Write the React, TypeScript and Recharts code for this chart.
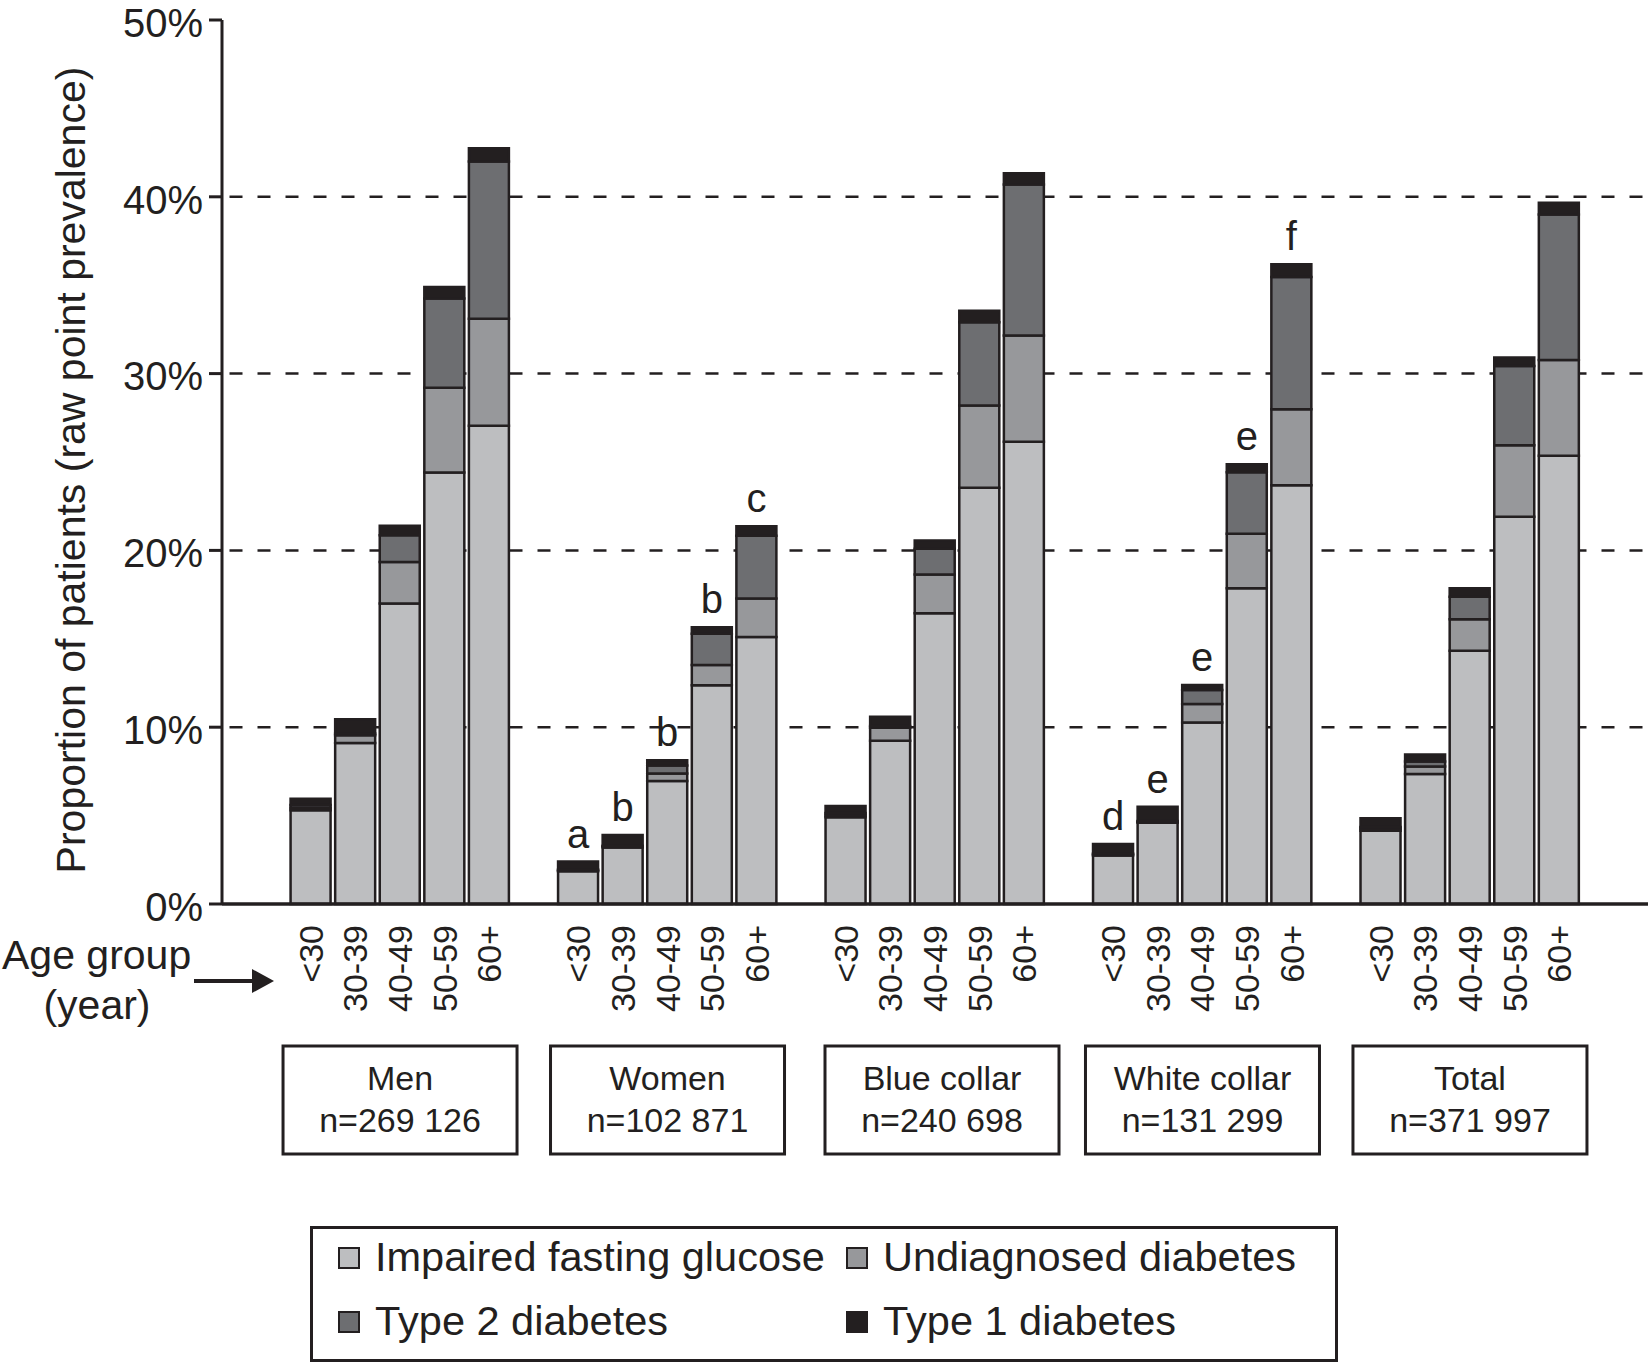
import React from 'react';
import { BarChart, Bar, XAxis, YAxis, CartesianGrid, Legend, LabelList } from 'recharts';

const INK = '#231f20';
const FONT = '"Liberation Sans", Arial, Helvetica, sans-serif';

const groups = ['Men', 'Women', 'Blue collar', 'White collar', 'Total'];
const groupSizes = ['n=269 126', 'n=102 871', 'n=240 698', 'n=131 299', 'n=371 997'];
const ageGroups = ['<30', '30-39', '40-49', '50-59', '60+'];
const yTicks = [0, 10, 20, 30, 40, 50];
const gridValues = [10, 20, 30, 40];

// % of patients, one row per group, one column per age group
const impairedFasting = [
  [5.3, 9.1, 17.0, 24.4, 27.05],
  [1.85, 3.2, 6.95, 12.37, 15.1],
  [4.9, 9.23, 16.44, 23.55, 26.15],
  [2.75, 4.6, 10.26, 17.86, 23.68],
  [4.15, 7.35, 14.33, 21.91, 25.36],
];
const undiagnosed = [
  [0.15, 0.45, 2.35, 4.8, 6.05],
  [0.05, 0.05, 0.43, 1.15, 2.18],
  [0.12, 0.74, 2.2, 4.65, 6.0],
  [0.05, 0.05, 1.05, 3.08, 4.3],
  [0.1, 0.43, 1.77, 4.04, 5.41],
];
const type2 = [
  [0.15, 0.1, 1.5, 5.05, 8.9],
  [0.05, 0.05, 0.45, 1.77, 3.55],
  [0.12, 0.1, 1.46, 4.7, 8.55],
  [0.05, 0.05, 0.8, 3.48, 7.49],
  [0.1, 0.28, 1.28, 4.48, 8.23],
];
const type1 = [
  [0.35, 0.8, 0.55, 0.65, 0.75],
  [0.45, 0.6, 0.3, 0.37, 0.54],
  [0.4, 0.52, 0.46, 0.65, 0.63],
  [0.55, 0.8, 0.28, 0.45, 0.71],
  [0.5, 0.4, 0.48, 0.48, 0.66],
];
const letters = [
  ['', '', '', '', ''],
  ['a', 'b', 'b', 'b', 'c'],
  ['', '', '', '', ''],
  ['d', 'e', 'e', 'e', 'f'],
  ['', '', '', '', ''],
];

const seriesNames = ['Impaired fasting glucose', 'Undiagnosed diabetes', 'Type 2 diabetes', 'Type 1 diabetes'];
const seriesKeys = ['ifg', 'ud', 't2', 't1'];
const seriesColors = ['#bdbec0', '#97989b', '#6d6e71', '#231f20'];

// the blue collar box sits a little right of its bars in the original
const boxShift = [0, 0, 7, 0, 0];

// one empty slot before, between and after the groups
const rows: any[] = [{ key: 'gap0' }];
groups.forEach((g, gi) => {
  ageGroups.forEach((a, ai) => {
    rows.push({
      key: `${gi}-${ai}`,
      group: gi,
      age: ai,
      ifg: impairedFasting[gi][ai],
      ud: undiagnosed[gi][ai],
      t2: type2[gi][ai],
      t1: type1[gi][ai],
      letter: letters[gi][ai],
    });
  });
  rows.push({ key: `gap${gi + 1}` });
});
const rowByKey: Record<string, any> = {};
rows.forEach((r) => (rowByKey[r.key] = r));

function AgeTick(props: any) {
  const { x, y, payload } = props;
  const row = rowByKey[payload.value];
  if (!row || row.group === undefined) return null;
  const ty = y + 21;
  const bx = x + boxShift[row.group];
  return (
    <g>
      <text
        x={x}
        y={ty}
        transform={`rotate(-90 ${x} ${ty})`}
        textAnchor="end"
        dominantBaseline="central"
        fontSize={34}
        fill={INK}
      >
        {ageGroups[row.age]}
      </text>
      {row.age === 2 && (
        <g>
          <rect x={bx - 117} y={y + 142} width={234} height={108} fill="#fff" stroke={INK} strokeWidth={3} />
          <text x={bx} y={y + 174} textAnchor="middle" dominantBaseline="central" fontSize={34} fill={INK}>
            {groups[row.group]}
          </text>
          <text x={bx} y={y + 216} textAnchor="middle" dominantBaseline="central" fontSize={34} fill={INK}>
            {groupSizes[row.group]}
          </text>
        </g>
      )}
    </g>
  );
}

function PercentTick(props: any) {
  const { x, y, payload } = props;
  return (
    <text x={x} y={y} dy="0.42em" textAnchor="end" fontSize={40} fill={INK}>
      {`${payload.value}%`}
    </text>
  );
}

function YTitle(props: any) {
  const vb = props.viewBox || { x: 0, y: 20, width: 222, height: 884 };
  const cx = vb.x + 71;
  const cy = vb.y + vb.height / 2 + 8;
  return (
    <text
      x={cx}
      y={cy}
      transform={`rotate(-90 ${cx} ${cy})`}
      textAnchor="middle"
      dominantBaseline="central"
      fontSize={41}
      fill={INK}
    >
      Proportion of patients (raw point prevalence)
    </text>
  );
}

function LetterLabel(props: any) {
  const { x, y, width, value } = props;
  if (!value) return null;
  return (
    <text x={x + width / 2} y={y - 14} textAnchor="middle" fontSize={40} fill={INK}>
      {value}
    </text>
  );
}

function LegendBox() {
  const cols = [29, 537];
  const rowsY = [22, 86];
  return (
    <svg width={1028} height={136} style={{ display: 'block' }}>
      <rect x={1.5} y={1.5} width={1025} height={133} fill="#fff" stroke={INK} strokeWidth={3} />
      {seriesNames.map((name, i) => {
        const cx = cols[i % 2];
        const cy = rowsY[Math.floor(i / 2)];
        return (
          <g key={name}>
            <rect x={cx} y={cy} width={20} height={20} fill={seriesColors[i]} stroke={INK} strokeWidth={2} />
            <text x={cx + 36} y={cy + 23} fontSize={41.5} fill={INK} fontFamily={FONT}>
              {name}
            </text>
          </g>
        );
      })}
    </svg>
  );
}

export default function App() {
  return (
    <div style={{ position: 'absolute', left: 0, top: 0, width: 1648, height: 1363, background: '#fff', fontFamily: FONT }}>
      <BarChart
        width={1648}
        height={1363}
        data={rows}
        margin={{ top: 20, right: 0, bottom: 0, left: 0 }}
        style={{ fontFamily: FONT }}
      >
        <CartesianGrid
          vertical={false}
          horizontalValues={gridValues}
          stroke={INK}
          strokeWidth={2.5}
          strokeDasharray="0 7.5 13 7.5"
        />
        <XAxis
          dataKey="key"
          type="category"
          height={459}
          padding={{ left: 22, right: 22 }}
          interval={0}
          tickLine={false}
          tickSize={0}
          tickMargin={0}
          tick={<AgeTick />}
          axisLine={{ stroke: INK, strokeWidth: 3.5 }}
        />
        <YAxis
          width={222}
          domain={[0, 50]}
          ticks={yTicks}
          interval={0}
          tick={<PercentTick />}
          tickSize={13}
          tickMargin={6}
          axisLine={{ stroke: INK, strokeWidth: 3 }}
          tickLine={{ stroke: INK, strokeWidth: 3 }}
          label={<YTitle />}
        />
        <Legend
          layout="horizontal"
          verticalAlign="middle"
          align="center"
          content={<LegendBox />}
          wrapperStyle={{ position: 'absolute', left: 310, top: 1226, width: 1028, height: 136 }}
        />
        {seriesKeys.map((k, i) => (
          <Bar
            key={k}
            dataKey={k}
            name={seriesNames[i]}
            stackId="a"
            fill={seriesColors[i]}
            stroke={INK}
            strokeWidth={2.5}
            barSize={40}
            isAnimationActive={false}
          >
            {k === 't1' && <LabelList dataKey="letter" content={<LetterLabel />} />}
          </Bar>
        ))}
      </BarChart>
      <svg
        width={300}
        height={1100}
        style={{ position: 'absolute', left: 0, top: 0, pointerEvents: 'none' }}
      >
        <text x={2} y={969} fontSize={41} fill={INK} fontFamily={FONT}>
          Age group
        </text>
        <text x={97} y={1019} fontSize={41} fill={INK} textAnchor="middle" fontFamily={FONT}>
          (year)
        </text>
        <line x1={194} y1={981} x2={256} y2={981} stroke={INK} strokeWidth={4} />
        <polygon points="252,969 274,981 252,993" fill={INK} />
      </svg>
    </div>
  );
}
